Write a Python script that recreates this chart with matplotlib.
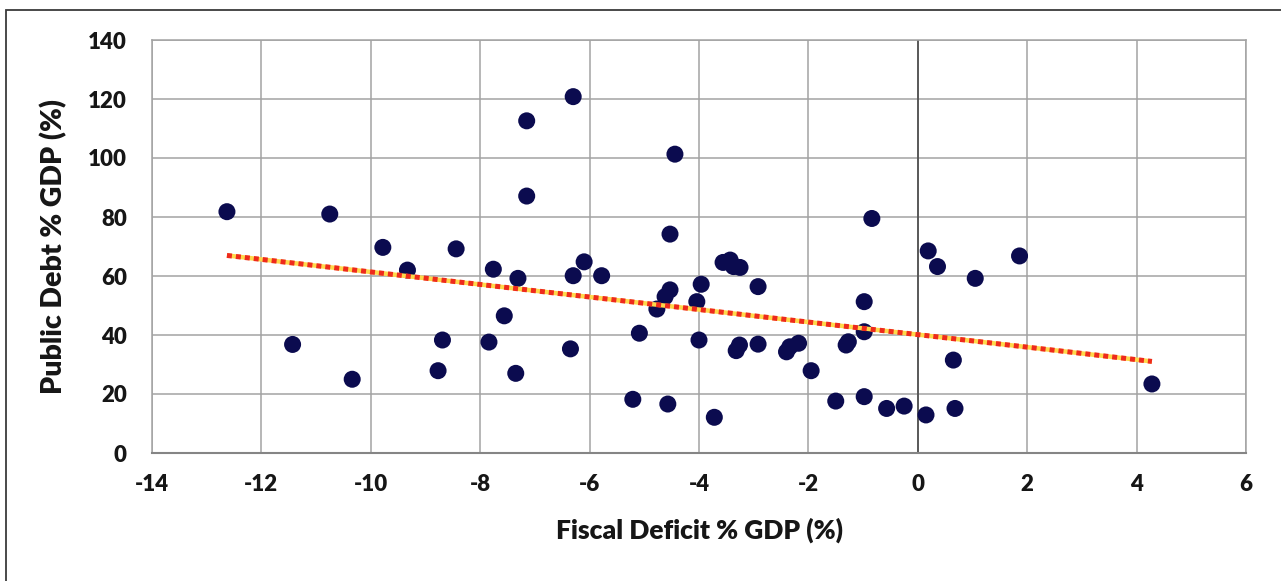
import numpy as np
import matplotlib
matplotlib.use("Agg")
import matplotlib.pyplot as plt
from matplotlib.patches import Rectangle

plt.rcParams["axes.unicode_minus"] = False

# Fiscal deficit (% of GDP) and public debt (% of GDP) per country
fiscal_deficit = [
    -12.63, -11.43, -10.75, -10.34, -9.78, -9.33, -8.77, -8.69, -8.44,
    -7.84, -7.76, -7.56, -7.31, -7.35, -7.15, -7.15, -6.30, -6.30,
    -6.10, -6.35, -5.78, -5.21, -5.09, -4.77, -4.62, -4.53, -4.57,
    -4.53, -4.44, -4.04, -3.96, -4.00, -3.72, -3.56, -3.43, -3.37,
    -3.25, -3.32, -3.26, -2.92, -2.92, -2.40, -2.34, -2.18, -1.95,
    -1.50, -1.31, -1.27, -0.98, -0.98, -0.98, -0.84, -0.57, -0.25,
    0.15, 0.19, 0.36, 0.65, 0.68, 1.05, 1.86, 4.28,
]
public_debt = [
    81.8, 36.8, 81.0, 25.0, 69.7, 62.0, 27.9, 38.3, 69.2,
    37.6, 62.3, 46.5, 59.2, 27.0, 112.6, 87.1, 120.8, 60.1,
    64.8, 35.3, 60.1, 18.2, 40.6, 48.8, 53.0, 55.3, 16.6,
    74.2, 101.3, 51.3, 57.2, 38.3, 12.1, 64.6, 65.4, 63.2,
    62.9, 34.7, 36.6, 56.4, 36.9, 34.3, 36.0, 37.2, 27.9,
    17.6, 36.6, 37.7, 19.1, 41.1, 51.3, 79.5, 15.1, 15.9,
    12.9, 68.5, 63.2, 31.5, 15.1, 59.2, 66.8, 23.4,
]

x_ticks = list(range(-14, 7, 2))
y_ticks = list(range(0, 141, 20))

FONT = ["Lato", "DejaVu Sans"]
TEXT_COLOR = "#161616"

fig = plt.figure(figsize=(12.81, 5.81), dpi=100)
fig.patch.set_facecolor("white")

# outer frame of the figure panel
fig.patches.append(Rectangle((6 / 1281, -0.1), 1.2, 1.1 - 10 / 581,
                             transform=fig.transFigure, fill=False,
                             edgecolor="#3a3a3a", linewidth=1.3, zorder=0))

ax = fig.add_axes([152 / 1281, 1 - 453 / 581, (1246 - 152) / 1281, (453 - 40) / 581])
ax.set_xlim(-14, 6)
ax.set_ylim(0, 140)
ax.set_xticks(x_ticks)
ax.set_yticks(y_ticks)
ax.grid(True, color="#a3a3a3", linewidth=1.1, zorder=0)
ax.set_axisbelow(True)
ax.tick_params(axis="x", length=0, pad=15)
ax.tick_params(axis="y", length=0, pad=18)
for lab in ax.get_xticklabels() + ax.get_yticklabels():
    lab.set_fontfamily(FONT)
    lab.set_fontweight("heavy")
    lab.set_fontsize(16)
    lab.set_color(TEXT_COLOR)

for side in ("top", "right", "left"):
    ax.spines[side].set_color("#a3a3a3")
    ax.spines[side].set_linewidth(1.1)
ax.spines["bottom"].set_color("#858585")
ax.spines["bottom"].set_linewidth(1.5)

# vertical reference at zero
ax.axvline(0, color="#4a4a4a", linewidth=1.2, zorder=1)

ax.scatter(fiscal_deficit, public_debt, s=150, color="#0b0b4f",
           edgecolors="none", zorder=3)

# linear trend
slope, intercept = np.polyfit(fiscal_deficit, public_debt, 1)
tx = np.array([min(fiscal_deficit), max(fiscal_deficit)])
ty = slope * tx + intercept
ax.plot(tx, ty, color="#ffd84a", linewidth=3.2, solid_capstyle="butt", zorder=4)
ax.plot(tx, ty, color="#ee2a1c", linewidth=3.6, linestyle=(0, (1.0, 0.8)),
        dash_capstyle="butt", zorder=5)

ax.set_xlabel("Fiscal Deficit % GDP (%)", fontfamily=FONT, fontweight="heavy",
              fontsize=19, color=TEXT_COLOR, labelpad=16)
ax.set_ylabel("Public Debt % GDP (%)", fontfamily=FONT, fontweight="heavy",
              fontsize=20.5, color=TEXT_COLOR, labelpad=15)

fig.savefig("out.png", dpi=100, facecolor="white")
